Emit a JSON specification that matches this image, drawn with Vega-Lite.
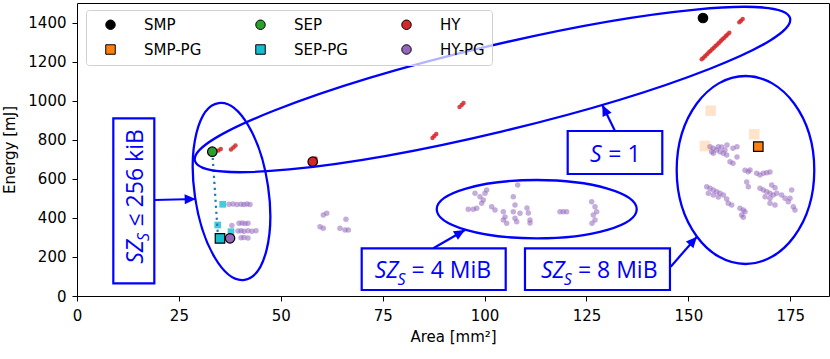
{
"$schema": "https://vega.github.io/schema/vega-lite/v6.json",
"width": 752, "height": 293,
"autosize": {"type": "none"},
"padding": {"left": 77, "top": 3, "right": 1, "bottom": 63},
"background": "white",
"config": {
 "view": {"stroke": "#000000", "strokeWidth": 1},
 "axis": {"domain": false, "grid": false, "tickColor": "#000000", "tickSize": 5, "tickWidth": 1, "labelFont": "DejaVu Sans", "labelFontSize": 15, "labelColor": "#000000", "titleFont": "DejaVu Sans", "titleFontSize": 15, "titleFontWeight": "normal", "titleColor": "#000000", "labelOverlap": false},
 "legend": {"labelFont": "DejaVu Sans", "labelFontSize": 15, "labelColor": "#000000", "symbolSize": 90, "symbolStrokeColor": "#000000", "symbolStrokeWidth": 1, "strokeColor": "#d0d0d0", "fillColor": "rgba(255,255,255,0.7)", "padding": 7, "cornerRadius": 3, "rowPadding": 9, "columnPadding": 41, "labelOffset": 26, "symbolOffset": 10}
},
"encoding": {
 "x": {"field": "x", "type": "quantitative", "scale": {"domain": [0, 184.5], "nice": false, "zero": false}, "axis": {"title": "Area [mm²]", "values": [0, 25, 50, 75, 100, 125, 150, 175], "format": "d", "labelPadding": 7, "titlePadding": 6, "labelFlush": false}},
 "y": {"field": "y", "type": "quantitative", "scale": {"domain": [0, 1500], "nice": false, "zero": false}, "axis": {"title": "Energy [mJ]", "values": [0, 200, 400, 600, 800, 1000, 1200, 1400], "format": "d", "labelPadding": 6, "titlePadding": 10, "labelFlush": false}}
},
"layer": [
 {"data": {"values": [
  {"series":"HY-PG","x":37.29,"y":469.5},{"series":"HY-PG","x":38.27,"y":471},{"series":"HY-PG","x":39.25,"y":468},{"series":"HY-PG","x":40.24,"y":470},{"series":"HY-PG","x":40.97,"y":468.5},{"series":"HY-PG","x":41.71,"y":470.5},{"series":"HY-PG","x":42.44,"y":469},
  {"series":"HY-PG","x":39.75,"y":372.2},{"series":"HY-PG","x":40.48,"y":374},{"series":"HY-PG","x":41.22,"y":371},{"series":"HY-PG","x":41.95,"y":373},{"series":"HY-PG","x":38.0,"y":361},
  {"series":"HY-PG","x":39.5,"y":332.8},{"series":"HY-PG","x":40.24,"y":334},{"series":"HY-PG","x":40.97,"y":331},{"series":"HY-PG","x":41.95,"y":333.5},{"series":"HY-PG","x":42.93,"y":332},{"series":"HY-PG","x":43.92,"y":334},
  {"series":"HY-PG","x":40.24,"y":298.5},{"series":"HY-PG","x":40.97,"y":300},{"series":"HY-PG","x":41.95,"y":297},
  {"series":"HY-PG","x":60.43,"y":414.7},{"series":"HY-PG","x":61.26,"y":423.4},{"series":"HY-PG","x":59.62,"y":354.8},{"series":"HY-PG","x":60.43,"y":346.6},{"series":"HY-PG","x":64.52,"y":346.6},{"series":"HY-PG","x":65.75,"y":337.9},{"series":"HY-PG","x":66.56,"y":337.9},{"series":"HY-PG","x":65.99,"y":392.7},
  {"series":"HY-PG","x":96.0,"y":443.9},{"series":"HY-PG","x":97.23,"y":443.9},{"series":"HY-PG","x":98.07,"y":449.0},{"series":"HY-PG","x":97.65,"y":525.8},{"series":"HY-PG","x":98.87,"y":508.4},{"series":"HY-PG","x":100.1,"y":525.8},{"series":"HY-PG","x":99.68,"y":491.5},{"series":"HY-PG","x":100.52,"y":542.7},{"series":"HY-PG","x":99.29,"y":474.6},{"series":"HY-PG","x":101.74,"y":457.2},{"series":"HY-PG","x":102.55,"y":440.3},{"series":"HY-PG","x":104.59,"y":431.6},{"series":"HY-PG","x":107.04,"y":508.4},{"series":"HY-PG","x":107.46,"y":465.9},{"series":"HY-PG","x":108.12,"y":568.3},{"series":"HY-PG","x":104.59,"y":389.1},{"series":"HY-PG","x":105.42,"y":372.2},{"series":"HY-PG","x":105.01,"y":404.4},{"series":"HY-PG","x":107.04,"y":431.6},{"series":"HY-PG","x":107.46,"y":397.8},{"series":"HY-PG","x":107.88,"y":380.4},{"series":"HY-PG","x":108.69,"y":423.4},{"series":"HY-PG","x":110.41,"y":450.5},{"series":"HY-PG","x":110.73,"y":424.9},{"series":"HY-PG","x":111.14,"y":389.1},{"series":"HY-PG","x":111.14,"y":373.7},{"series":"HY-PG","x":118.5,"y":431.6},{"series":"HY-PG","x":119.31,"y":431.6},{"series":"HY-PG","x":120.14,"y":431.6},{"series":"HY-PG","x":126.28,"y":482.8},{"series":"HY-PG","x":127.09,"y":457.2},{"series":"HY-PG","x":126.67,"y":414.7},{"series":"HY-PG","x":127.09,"y":389.1},{"series":"HY-PG","x":126.35,"y":372.2},{"series":"HY-PG","x":127.5,"y":431.6},
  {"series":"HY-PG","x":155.3,"y":764.4},{"series":"HY-PG","x":156.11,"y":756.2},{"series":"HY-PG","x":156.95,"y":747.5},{"series":"HY-PG","x":157.76,"y":738.8},{"series":"HY-PG","x":158.57,"y":730.6},{"series":"HY-PG","x":156.11,"y":730.6},{"series":"HY-PG","x":157.34,"y":764.4},{"series":"HY-PG","x":158.17,"y":762.8},{"series":"HY-PG","x":158.98,"y":747.5},{"series":"HY-PG","x":159.4,"y":721.8},{"series":"HY-PG","x":155.72,"y":738.8},{"series":"HY-PG","x":159.47,"y":773.1},{"series":"HY-PG","x":160.94,"y":756.2},{"series":"HY-PG","x":161.93,"y":764.4},{"series":"HY-PG","x":161.93,"y":711.6},{"series":"HY-PG","x":160.21,"y":687.6},{"series":"HY-PG","x":160.94,"y":679.4},
  {"series":"HY-PG","x":163.89,"y":643.5},{"series":"HY-PG","x":164.7,"y":636.4},{"series":"HY-PG","x":165.12,"y":645.1},{"series":"HY-PG","x":166.76,"y":628.2},{"series":"HY-PG","x":167.57,"y":619.5},{"series":"HY-PG","x":168.38,"y":628.2},{"series":"HY-PG","x":169.21,"y":631.2},{"series":"HY-PG","x":170.02,"y":634.8},{"series":"HY-PG","x":164.31,"y":583.6},{"series":"HY-PG","x":164.7,"y":559.6},
  {"series":"HY-PG","x":154.49,"y":559.6},{"series":"HY-PG","x":155.3,"y":551.4},{"series":"HY-PG","x":156.11,"y":542.7},{"series":"HY-PG","x":156.95,"y":534.0},{"series":"HY-PG","x":157.76,"y":525.8},{"series":"HY-PG","x":154.89,"y":525.8},{"series":"HY-PG","x":156.11,"y":517.1},{"series":"HY-PG","x":157.34,"y":506.8},{"series":"HY-PG","x":158.57,"y":517.1},{"series":"HY-PG","x":159.4,"y":496.6},{"series":"HY-PG","x":159.79,"y":474.6},{"series":"HY-PG","x":160.63,"y":465.9},
  {"series":"HY-PG","x":162.66,"y":449.0},{"series":"HY-PG","x":163.47,"y":440.3},{"series":"HY-PG","x":163.89,"y":431.6},{"series":"HY-PG","x":163.08,"y":414.7},{"series":"HY-PG","x":163.47,"y":402.9},
  {"series":"HY-PG","x":167.57,"y":551.4},{"series":"HY-PG","x":168.38,"y":542.7},{"series":"HY-PG","x":169.21,"y":534.0},{"series":"HY-PG","x":170.02,"y":525.8},{"series":"HY-PG","x":170.83,"y":517.1},{"series":"HY-PG","x":168.8,"y":508.4},{"series":"HY-PG","x":170.02,"y":500.2},{"series":"HY-PG","x":171.25,"y":554.5},{"series":"HY-PG","x":171.67,"y":525.8},{"series":"HY-PG","x":170.44,"y":568.3},{"series":"HY-PG","x":170.02,"y":474.6},{"series":"HY-PG","x":171.25,"y":465.9},
  {"series":"HY-PG","x":172.89,"y":517.1},{"series":"HY-PG","x":173.71,"y":500.2},{"series":"HY-PG","x":174.51,"y":482.8},{"series":"HY-PG","x":174.93,"y":500.2},{"series":"HY-PG","x":175.74,"y":457.2},{"series":"HY-PG","x":176.15,"y":440.3},{"series":"HY-PG","x":175.35,"y":542.7}
 ]},
 "mark": {"type": "point", "shape": "circle", "filled": true, "size": 30, "opacity": 0.55, "color": "#9467bd"}},
 {"data": {"values": [
  {"series":"HY","x":34.72,"y":744.9},{"series":"HY","x":35.28,"y":752.6},
  {"series":"HY","x":37.78,"y":750.0},{"series":"HY","x":38.35,"y":760.3},{"series":"HY","x":38.89,"y":770.5},
  {"series":"HY","x":58.52,"y":703.9},
  {"series":"HY","x":87.22,"y":808.9},{"series":"HY","x":87.66,"y":819.1},{"series":"HY","x":88.15,"y":829.4},
  {"series":"HY","x":93.85,"y":967.6},{"series":"HY","x":94.39,"y":977.8},{"series":"HY","x":94.83,"y":988.1},
  {"series":"HY","x":153.27,"y":1211.8},{"series":"HY","x":153.7,"y":1220},{"series":"HY","x":154.13,"y":1228.7},{"series":"HY","x":154.55,"y":1237},{"series":"HY","x":154.96,"y":1246.1},{"series":"HY","x":155.4,"y":1254},{"series":"HY","x":155.82,"y":1263.0},{"series":"HY","x":156.25,"y":1271},{"series":"HY","x":156.66,"y":1279.9},{"series":"HY","x":157.1,"y":1288},{"series":"HY","x":157.52,"y":1296.8},{"series":"HY","x":157.95,"y":1305},{"series":"HY","x":158.35,"y":1314.2},{"series":"HY","x":158.8,"y":1322},{"series":"HY","x":159.21,"y":1331.1},{"series":"HY","x":159.6,"y":1339},{"series":"HY","x":160.04,"y":1348.0},
  {"series":"HY","x":162.49,"y":1401.2},{"series":"HY","x":162.91,"y":1409.4},{"series":"HY","x":163.33,"y":1418.1}
 ]},
 "mark": {"type": "point", "shape": "circle", "filled": true, "size": 20, "opacity": 0.85, "color": "#d62728"}},
 {"data": {"values": [
  {"series":"SMP-PG","x":155.47,"y":948.6},{"series":"SMP-PG","x":166.17,"y":827.8},{"series":"SMP-PG","x":154.08,"y":767.9}
 ]},
 "mark": {"type": "point", "shape": "square", "filled": true, "size": 110, "opacity": 0.22, "color": "#ff7f0e"}},
 {"data": {"values": [
  {"series":"SEP-PG","x":35.75,"y":469.5},{"series":"SEP-PG","x":34.52,"y":363.5},{"series":"SEP-PG","x":37.78,"y":329.2}
 ]},
 "mark": {"type": "point", "shape": "square", "filled": true, "size": 45, "opacity": 0.8, "color": "#17becf"}},
 {"data": {"values": [{"x":33.2,"y":738},{"x":34.6,"y":300}]},
 "mark": {"type": "line", "color": "#1f77b4", "strokeWidth": 2.2, "strokeDash": [2.2, 3.8]},
 "encoding": {}},
 {"data": {"values": [
  {"series":"SMP","x":153.58,"y":1423.2},{"series":"SEP","x":33.19,"y":738.7},{"series":"HY","x":57.83,"y":687.6},
  {"series":"SMP-PG","x":167.15,"y":764.3},{"series":"SEP-PG","x":35.08,"y":295.4},{"series":"HY-PG","x":37.54,"y":295.4}
 ]},
 "mark": {"type": "point", "filled": true, "size": 90, "opacity": 1, "stroke": "#000000", "strokeWidth": 1.2},
 "encoding": {
  "color": {"field": "series", "type": "nominal", "scale": {"domain": ["SMP","SMP-PG","SEP","SEP-PG","HY","HY-PG"], "range": ["#000000","#ff7f0e","#2ca02c","#17becf","#d62728","#9467bd"]}, "legend": {"orient": "none", "legendX": 9, "legendY": 7, "columns": 3, "title": null}},
  "shape": {"field": "series", "type": "nominal", "scale": {"domain": ["SMP","SMP-PG","SEP","SEP-PG","HY","HY-PG"], "range": ["circle","square","circle","square","circle","circle"]}, "legend": {"orient": "none", "legendX": 9, "legendY": 7, "columns": 3, "title": null}}
 }},
 {"data": {"values": [{"x":101.94,"y":1057.2}]},
 "mark": {"type": "point", "shape": "M306,0C306,23.75 169,43 0,43C-169,43 -306,23.75 -306,0C-306,-23.75 -169,-43 0,-43C169,-43 306,-23.75 306,0Z", "size": 4, "angle": -13.46, "filled": false, "stroke": "#0000ff", "strokeWidth": 2.3, "opacity": 1}},
 {"data": {"values": [{"x":37.91,"y":535.0}]},
 "mark": {"type": "point", "shape": "M36.9,0C36.9,49.32 20.38,89.3 0,89.3C-20.38,89.3 -36.9,49.32 -36.9,0C-36.9,-49.32 -20.38,-89.3 0,-89.3C20.38,-89.3 36.9,-49.32 36.9,0Z", "size": 4, "angle": -8.35, "filled": false, "stroke": "#0000ff", "strokeWidth": 2.3, "opacity": 1}},
 {"data": {"values": [{"x":112.79,"y":444.4}]},
 "mark": {"type": "point", "shape": "M100,0C100,16.13 55.23,29.2 0,29.2C-55.23,29.2 -100,16.13 -100,0C-100,-16.13 -55.23,-29.2 0,-29.2C55.23,-29.2 100,-16.13 100,0Z", "size": 4, "filled": false, "stroke": "#0000ff", "strokeWidth": 2.3, "opacity": 1}},
 {"data": {"values": [{"x":164.01,"y":645.1}]},
 "mark": {"type": "point", "shape": "M68.8,0C68.8,51.92 38,94 0,94C-38,94 -68.8,51.92 -68.8,0C-68.8,-51.92 -38,-94 0,-94C38,-94 68.8,-51.92 68.8,0Z", "size": 4, "filled": false, "stroke": "#0000ff", "strokeWidth": 2.3, "opacity": 1}},
 {"data": {"values": [
  {"x":132.0,"y":844.7,"x2":128.88,"y2":977.8},
  {"x":87.42,"y":244.2,"x2":95.19,"y2":337.9},
  {"x":145.66,"y":150.0,"x2":152.1,"y2":303.6},
  {"x":18.97,"y":491.5,"x2":29.12,"y2":496.6}
 ]},
 "mark": {"type": "rule", "color": "#0000ff", "strokeWidth": 2.2},
 "encoding": {"x2": {"field": "x2"}, "y2": {"field": "y2"}}},
 {"data": {"values": [{"x":128.88,"y":977.8}]},
 "mark": {"type": "point", "shape": "M0,0L-5,11L5,11Z", "size": 4, "angle": -26, "filled": true, "color": "#0000ff", "opacity": 1}},
 {"data": {"values": [{"x":95.19,"y":337.9}]},
 "mark": {"type": "point", "shape": "M0,0L-5,11L5,11Z", "size": 4, "angle": 60, "filled": true, "color": "#0000ff", "opacity": 1}},
 {"data": {"values": [{"x":152.1,"y":303.6}]},
 "mark": {"type": "point", "shape": "M0,0L-5,11L5,11Z", "size": 4, "angle": 41.5, "filled": true, "color": "#0000ff", "opacity": 1}},
 {"data": {"values": [{"x":29.12,"y":496.6}]},
 "mark": {"type": "point", "shape": "M0,0L-5,11L5,11Z", "size": 4, "angle": 88.6, "filled": true, "color": "#0000ff", "opacity": 1}},
 {"data": {"values": [
  {"x":120.39,"x2":143.6,"y":844.7,"y2":624.6},
  {"x":69.85,"x2":105.18,"y":244.2,"y2":30.7},
  {"x":109.91,"x2":145.48,"y":244.2,"y2":30.7},
  {"x":8.91,"x2":18.97,"y":909.7,"y2":65.0}
 ]},
 "mark": {"type": "rect", "fill": "#ffffff", "stroke": "#0000ff", "strokeWidth": 2.2},
 "encoding": {"x2": {"field": "x2"}, "y2": {"field": "y2"}}},
 {"data": {"values": [{"x":128.73,"y":687.6,"t":"S"}]},
 "mark": {"type": "text", "align": "right", "baseline": "alphabetic", "font": "Open Sans", "fontSize": 23, "fontStyle": "italic", "color": "#0000ff"},
 "encoding": {"text": {"field": "t"}}},
 {"data": {"values": [{"x":128.73,"y":687.6,"t":"= 1"}]},
 "mark": {"type": "text", "align": "left", "baseline": "alphabetic", "dx": 6.6, "font": "Open Sans", "fontSize": 23, "color": "#0000ff"},
 "encoding": {"text": {"field": "t"}}},
 {"data": {"values": [{"x":80.47,"y":90.6,"t":"SZ"},{"x":121.27,"y":90.6,"t":"SZ"}]},
 "mark": {"type": "text", "align": "right", "baseline": "alphabetic", "dx": -6.5, "font": "Open Sans", "fontSize": 23, "fontStyle": "italic", "color": "#0000ff"},
 "encoding": {"text": {"field": "t"}}},
 {"data": {"values": [{"x":80.47,"y":90.6,"t":"S"},{"x":121.27,"y":90.6,"t":"S"}]},
 "mark": {"type": "text", "align": "right", "baseline": "alphabetic", "dy": 6.5, "dx": 0.5, "font": "Open Sans", "fontSize": 16, "fontStyle": "italic", "color": "#0000ff"},
 "encoding": {"text": {"field": "t"}}},
 {"data": {"values": [{"x":80.47,"y":90.6,"t":"= 4 MiB"},{"x":121.27,"y":90.6,"t":"= 8 MiB"}]},
 "mark": {"type": "text", "align": "left", "baseline": "alphabetic", "dx": 6.6, "font": "Open Sans", "fontSize": 23, "color": "#0000ff"},
 "encoding": {"text": {"field": "t"}}},
 {"data": {"values": [{"x":16.27,"y":322.5,"t":"SZ"}]},
 "mark": {"type": "text", "align": "right", "baseline": "alphabetic", "angle": 270, "dx": -7, "font": "Open Sans", "fontSize": 23, "fontStyle": "italic", "color": "#0000ff"},
 "encoding": {"text": {"field": "t"}}},
 {"data": {"values": [{"x":16.27,"y":322.5,"t":"S"}]},
 "mark": {"type": "text", "align": "right", "baseline": "alphabetic", "angle": 270, "dy": 6, "font": "Open Sans", "fontSize": 16, "fontStyle": "italic", "color": "#0000ff"},
 "encoding": {"text": {"field": "t"}}},
 {"data": {"values": [{"x":16.27,"y":322.5,"t":"≤ 256 kiB"}]},
 "mark": {"type": "text", "align": "left", "baseline": "alphabetic", "angle": 270, "dx": 6.5, "font": "Open Sans", "fontSize": 23, "color": "#0000ff"},
 "encoding": {"text": {"field": "t"}}}
]
}
